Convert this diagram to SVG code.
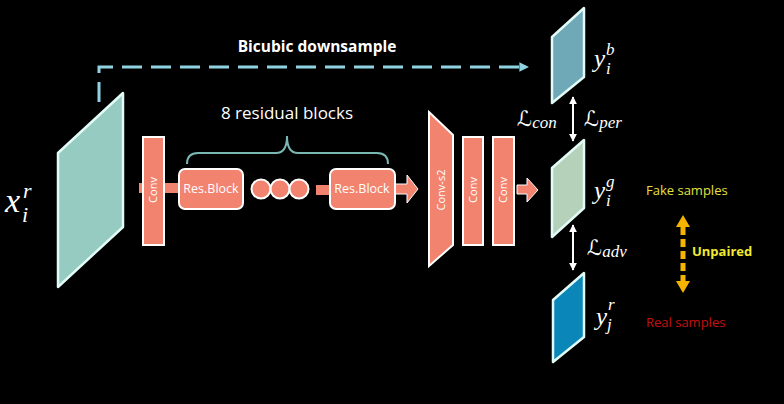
<svg xmlns="http://www.w3.org/2000/svg" width="784" height="404" viewBox="0 0 784 404">
<defs>
<style>
.blk{fill:#f2836f;stroke:#ffffff;stroke-width:2}
.lbl{font-family:"Open Sans","Liberation Sans",sans-serif;fill:#ffffff}
.rot{font-family:"Open Sans","Liberation Sans",sans-serif;fill:#ffffff;font-size:11px;text-anchor:middle}
.math{font-family:"Liberation Serif","DejaVu Serif",serif;font-style:italic;fill:#ffffff}
.scr{font-family:"DejaVu Serif","DejaVu Sans",serif;font-style:normal;fill:#ffffff}
.slab{stroke:#e2fbf7;stroke-width:2.5;stroke-linejoin:round}
</style>
<marker id="wh" viewBox="0 0 10 10" refX="9" refY="5" markerWidth="4" markerHeight="4" orient="auto-start-reverse">
<path d="M0,0 L10,5 L0,10 Z" fill="#ffffff"/>
</marker>
<marker id="cy" viewBox="0 0 10 10" refX="9" refY="5" markerWidth="3.2" markerHeight="3.2" orient="auto">
<path d="M0,0 L10,5 L0,10 Z" fill="#8fd3e2"/>
</marker>
</defs>
<rect width="784" height="404" fill="#000000"/>

<g id="connectors">
<path d="M99,102 L99,67 L528,67" fill="none" stroke="#8fd3e2" stroke-width="3" stroke-dasharray="20 9" marker-end="url(#cy)"/>
<line x1="573" y1="97" x2="573" y2="141" stroke="#ffffff" stroke-width="2" marker-start="url(#wh)" marker-end="url(#wh)"/>
<line x1="573" y1="225" x2="573" y2="270" stroke="#ffffff" stroke-width="2" marker-start="url(#wh)" marker-end="url(#wh)"/>
<g id="unpaired-arrow" fill="#f5b400">
<path d="M683,215 L690,227 L676,227 Z"/>
<path d="M683,293 L690,281 L676,281 Z"/>
<line x1="683" y1="227" x2="683" y2="281" stroke="#f5b400" stroke-width="5" stroke-dasharray="8 4"/>
</g>
<path d="M139,183 H178 V193 H139 Z" fill="#f2836f"/>
<path d="M316,185 H330 V195 H316 Z" fill="#f2836f"/>
<path d="M395,184 H407 V175 L418,189 L407,203 V194 H395 Z" fill="#f2836f" stroke="#ffffff" stroke-width="1"/>
<path d="M517,185 H527 V178 L538,190 L527,202 V194 H517 Z" fill="#f2836f" stroke="#ffffff" stroke-width="1"/>
<path d="M187,164 Q187,153 198,153 L276,153 Q287,153 287,136 Q287,153 298,153 L377,153 Q388,153 388,164" fill="none" stroke="#7ab7b3" stroke-width="2"/>
</g>

<g id="input-xr">
<polygon class="slab" points="58,153 123,93 123,227 58,287" fill="#96cbc2"/>
<text class="math" x="5" y="212" font-size="34">x</text>
<text class="math" x="23" y="198" font-size="22">r</text>
<text class="math" x="22" y="222" font-size="22">i</text>
</g>

<text id="bicubic-label" class="lbl" x="317" y="52" font-size="15.5" font-weight="bold" text-anchor="middle">Bicubic downsample</text>
<text id="residual-label" class="lbl" x="287" y="119" font-size="17" text-anchor="middle">8 residual blocks</text>

<g id="conv1">
<rect class="blk" x="143" y="137" width="21" height="108"/>
<text class="rot" transform="translate(157,190) rotate(-90)">Conv</text>
</g>
<g id="resblock1">
<rect class="blk" x="179" y="169" width="64" height="40" rx="6"/>
<text class="lbl" x="211" y="193" font-size="12.5" text-anchor="middle">Res.Block</text>
</g>
<g id="dots">
<circle class="blk" cx="261" cy="189" r="9.5"/>
<circle class="blk" cx="280" cy="189" r="9.5"/>
<circle class="blk" cx="299" cy="189" r="9.5"/>
</g>
<g id="resblock2">
<rect class="blk" x="330" y="169" width="65" height="40" rx="6"/>
<text class="lbl" x="362" y="193" font-size="12.5" text-anchor="middle">Res.Block</text>
</g>
<g id="conv-s2">
<polygon class="blk" points="429,112 453,135 453,245 429,266"/>
<text class="rot" transform="translate(445,190) rotate(-90)">Conv-s2</text>
</g>
<g id="conv2">
<rect class="blk" x="463" y="137" width="20" height="108"/>
<text class="rot" transform="translate(477,190) rotate(-90)">Conv</text>
</g>
<g id="conv3">
<rect class="blk" x="493" y="137" width="21" height="108"/>
<text class="rot" transform="translate(507,190) rotate(-90)">Conv</text>
</g>

<g id="out-yb">
<polygon class="slab" points="552,37 584,8 584,77 552,103" fill="#6fa8b7"/>
<text class="math" x="594" y="67" font-size="25">y</text>
<text class="math" x="606" y="55" font-size="17">b</text>
<text class="math" x="606" y="74" font-size="17">i</text>
</g>
<g id="out-yg">
<polygon class="slab" points="552,168 584,140 584,208 552,237" fill="#b6d1ba"/>
<text class="math" x="594" y="199" font-size="25">y</text>
<text class="math" x="606" y="187" font-size="17">g</text>
<text class="math" x="606" y="206" font-size="17">i</text>
</g>
<g id="real-yr">
<polygon class="slab" points="553,300 584,273 584,337 553,362" fill="#0a87b8"/>
<text class="math" x="596" y="325" font-size="25">y</text>
<text class="math" x="608" y="310" font-size="17">r</text>
<text class="math" x="607" y="330" font-size="17">j</text>
</g>

<g id="loss-labels">
<text class="scr" x="517" y="126" font-size="21">ℒ<tspan class="math" font-size="17" dy="2">con</tspan></text>
<text class="scr" x="584" y="126" font-size="21">ℒ<tspan class="math" font-size="17" dy="2">per</tspan></text>
<text class="scr" x="587" y="255" font-size="21">ℒ<tspan class="math" font-size="17" dy="2">adv</tspan></text>
</g>

<text id="fake-label" x="646" y="195" font-family="Open Sans, Liberation Sans, sans-serif" font-size="13" fill="#e6e040">Fake samples</text>
<text id="unpaired-label" x="692" y="256" font-family="Open Sans, Liberation Sans, sans-serif" font-size="13" font-weight="bold" fill="#f0ea30">Unpaired</text>
<text id="real-label" x="646" y="327" font-family="Open Sans, Liberation Sans, sans-serif" font-size="13" fill="#c41010">Real samples</text>
</svg>
